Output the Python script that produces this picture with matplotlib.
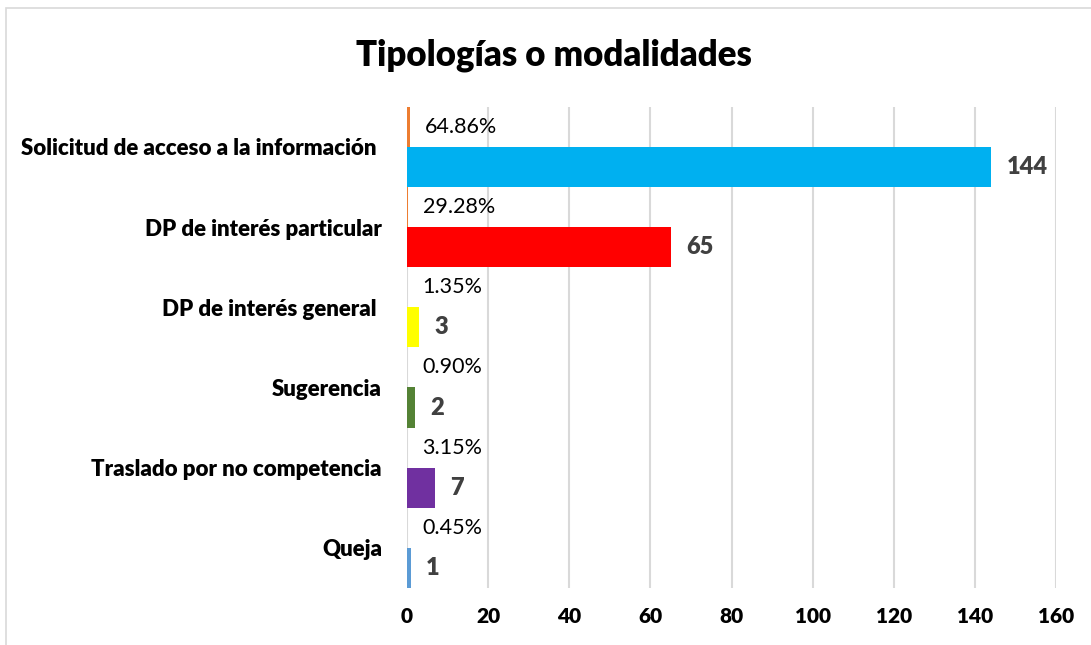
import matplotlib.pyplot as plt
from matplotlib.patches import Rectangle

plt.rcParams['font.family'] = ['Lato', 'DejaVu Sans']

categories = ['Solicitud de acceso a la información ', 'DP de interés particular',
              'DP de interés general ', 'Sugerencia', 'Traslado por no competencia', 'Queja']
counts = [144, 65, 3, 2, 7, 1]
percents = [0.6486, 0.2928, 0.0135, 0.0090, 0.0315, 0.0045]
pct_labels = ['64.86%', '29.28%', '1.35%', '0.90%', '3.15%', '0.45%']
bar_colors = ['#00B0F0', '#FF0000', '#FFFF00', '#548235', '#7030A0', '#5B9BD5']
xticks = [0, 20, 40, 60, 80, 100, 120, 140, 160]

fig = plt.figure(figsize=(10.91, 6.45), dpi=100)
ax = fig.add_axes([0.373, 0.0884, 0.595, 0.746])

n = len(categories)
ypos = [n - 1 - i for i in range(n)]

# count bars (lower half of each band), percentage series (upper half)
ax.barh([y - 0.25 for y in ypos], counts, height=0.5, color=bar_colors, zorder=3)
ax.barh([y + 0.25 for y in ypos], percents, height=0.5, color='#ED7D31', zorder=3)

for y, c, p, lab in zip(ypos, counts, percents, pct_labels):
    ax.annotate(str(c), (c, y - 0.25), xytext=(11, 0), textcoords='offset points',
                ha='left', va='center', fontsize=17, fontweight='heavy', color='#404040')
    ax.annotate(lab, (p, y + 0.25), xytext=(11, 0), textcoords='offset points',
                ha='left', va='center', fontsize=15.5, color='#000000')

ax.set_xlim(0, 160)
ax.set_ylim(-0.5, n - 0.5)
ax.set_xticks(xticks)
ax.set_xticklabels([str(t) for t in xticks], fontsize=15, fontweight='heavy')
ax.set_yticks(ypos)
ax.set_yticklabels(categories, fontsize=16, fontweight='heavy')
ax.tick_params(axis='both', length=0)
ax.tick_params(axis='x', pad=14)
ax.tick_params(axis='y', pad=18)
ax.grid(axis='x', color='#D9D9D9', linewidth=1.5, zorder=0)
for s in ax.spines.values():
    s.set_visible(False)

fig.text(0.508, 0.915, 'Tipologías o modalidades', ha='center', va='center',
         fontsize=25, fontweight='heavy')

fig.patches.append(Rectangle((6 / 1091, -0.1), 2, 1.1 - 8 / 645, transform=fig.transFigure,
                             fill=False, edgecolor='#D9D9D9', linewidth=1.2))

fig.savefig('out.png', dpi=100)
